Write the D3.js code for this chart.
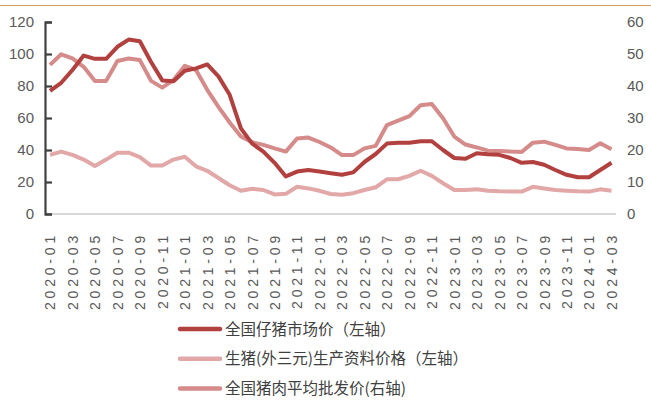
<!DOCTYPE html>
<html>
<head>
<meta charset="utf-8">
<script src="https://cdn.jsdelivr.net/npm/d3@7"></script>
<style>
	body { margin: 0; background: #fff; }
	svg { display: block; font-family: "Liberation Sans", "Noto Sans CJK SC", sans-serif; }
	.tick text { fill: #595959; }
</style>
</head>
<body>
<div id="chart"></div>
<script>
let months = [
	'2020-01','2020-02','2020-03','2020-04','2020-05','2020-06','2020-07','2020-08','2020-09','2020-10','2020-11','2020-12',
	'2021-01','2021-02','2021-03','2021-04','2021-05','2021-06','2021-07','2021-08','2021-09','2021-10','2021-11','2021-12',
	'2022-01','2022-02','2022-03','2022-04','2022-05','2022-06','2022-07','2022-08','2022-09','2022-10','2022-11','2022-12',
	'2023-01','2023-02','2023-03','2023-04','2023-05','2023-06','2023-07','2023-08','2023-09','2023-10','2023-11','2023-12',
	'2024-01','2024-02','2024-03'
];

// 全国仔猪市场价（左轴）
let pigletPrice = [
	77, 82, 90, 99, 97, 97, 104.5, 109, 108, 95, 83.5, 83,
	89.5, 91, 93.5, 86, 74.5, 53.5, 44, 39, 32, 23.5, 26.5, 27.5,
	26.5, 25.5, 24.5, 26, 32.5, 37.5, 44, 44.5, 44.5, 45.5, 45.5, 40,
	35, 34.5, 38, 37.3, 37, 35, 32, 32.5, 30.8, 27.5, 24.5, 23,
	23, 27.5, 32
];

// 生猪(外三元)生产资料价格（左轴）
let hogInputPrice = [
	37, 39, 37, 34, 30, 34, 38.3, 38.3, 35.5, 30.3, 30.3, 34,
	35.8, 29.8, 27, 22.5, 18, 14.5, 15.8, 15, 12.2, 12.6, 17, 16,
	14.5, 12.5, 12, 13, 15, 16.7, 21.7, 21.7, 23.8, 27, 23.8, 19.2,
	15, 15, 15.4, 14.6, 14.2, 14.1, 14, 17, 16, 15, 14.6, 14.2,
	14, 15.4, 14.6
];

// 全国猪肉平均批发价(右轴)
let porkWholesale = [
	46.6, 49.9, 48.6, 46, 41.6, 41.6, 47.8, 48.6, 48.1, 41.6, 39.5, 41.9,
	46.3, 45, 38.8, 33.5, 28.6, 24.2, 22.4, 21.6, 20.5, 19.5, 23.6, 23.9,
	22.5, 20.8, 18.4, 18.4, 20.5, 21.3, 27.8, 29.2, 30.6, 34, 34.4, 29.9,
	24.2, 21.7, 20.8, 19.8, 19.7, 19.5, 19.4, 22.3, 22.6, 21.6, 20.5, 20.3,
	20, 22.1, 20.2
];

let leftTicks = [0, 20, 40, 60, 80, 100, 120];
let rightTicks = [0, 10, 20, 30, 40, 50, 60];

let series = [
	{name: '生猪(外三元)生产资料价格（左轴）', values: hogInputPrice, axis: 'left', color: '#E1A8A7'},
	{name: '全国猪肉平均批发价(右轴)', values: porkWholesale, axis: 'right', color: '#D48B89'},
	{name: '全国仔猪市场价（左轴）', values: pigletPrice, axis: 'left', color: '#B1403E'}
];
let legendOrder = [2, 0, 1];

let width = 651;
let height = 401;
let plot = {left: 45, right: 616, top: 22, bottom: 214};

let svg = d3.select('#chart').append('svg')
	.attr('width', width)
	.attr('height', height);

// top rule
svg.append('line')
	.attr('x1', 0).attr('x2', width)
	.attr('y1', 5.5).attr('y2', 5.5)
	.attr('stroke', '#CF9C5A')
	.attr('stroke-width', 1.2);

let x = d3.scalePoint()
	.domain(months)
	.range([50, 611.5]);

let yLeft = d3.scaleLinear()
	.domain([0, 120])
	.range([plot.bottom, plot.top]);

let yRight = d3.scaleLinear()
	.domain([0, 60])
	.range([plot.bottom, plot.top]);

// x axis
let xAxis = svg.append('g')
	.attr('transform', `translate(0,${plot.bottom})`)
	.call(d3.axisBottom(x)
		.tickValues(months.filter((d, i) => i % 2 === 0))
		.tickSize(0)
		.tickPadding(0));
xAxis.select('.domain').remove();
xAxis.append('line')
	.attr('x1', plot.left).attr('x2', plot.right)
	.attr('stroke', '#D9D9D9')
	.attr('stroke-width', 2);
xAxis.selectAll('.tick text')
	.attr('transform', 'rotate(-90)')
	.attr('text-anchor', 'end')
	.attr('x', -18)
	.attr('y', 0)
	.attr('dy', '0.35em')
	.style('letter-spacing', '3.8px')
	.style('font-size', '14px');

// left axis
let leftAxis = svg.append('g')
	.attr('transform', `translate(${plot.left},0)`)
	.call(d3.axisLeft(yLeft)
		.tickValues(leftTicks)
		.tickSize(-7)
		.tickPadding(11));
leftAxis.select('.domain')
	.attr('stroke', '#404040')
	.attr('stroke-width', 2.2);
leftAxis.selectAll('.tick line')
	.attr('stroke', '#404040')
	.attr('stroke-width', 2.2);
leftAxis.selectAll('.tick text').style('font-size', '15px');

// right axis
let rightAxis = svg.append('g')
	.attr('transform', `translate(${plot.right},0)`)
	.call(d3.axisRight(yRight)
		.tickValues(rightTicks)
		.tickSize(0)
		.tickPadding(11));
rightAxis.select('.domain').remove();
rightAxis.selectAll('.tick text').style('font-size', '15px');

// lines
let g = svg.append('g');
series.forEach((s) => {
	let yScale = s.axis === 'left' ? yLeft : yRight;
	let line = d3.line()
		.x((d, i) => x(months[i]))
		.y((d) => yScale(d));
	g.append('path')
		.datum(s.values)
		.attr('d', line)
		.attr('fill', 'none')
		.attr('stroke', s.color)
		.attr('stroke-width', 4)
		.attr('stroke-linejoin', 'round');
});

// legend
let legend = svg.append('g')
	.attr('transform', 'translate(180,329)');
let item = legend.selectAll('g')
	.data(legendOrder.map((i) => series[i]))
	.enter().append('g')
	.attr('transform', (d, i) => `translate(0,${i * 29.8})`);
item.append('line')
	.attr('x1', 0).attr('x2', 40)
	.attr('stroke', (d) => d.color)
	.attr('stroke-width', 4.5)
	.attr('stroke-linecap', 'round');
item.append('text')
	.attr('x', 45)
	.attr('dy', '0.36em')
	.attr('fill', '#404040')
	.style('font-size', '15.5px')
	.style('font-family', '"Noto Sans CJK SC", sans-serif')
	.text((d) => d.name);
</script>
</body>
</html>
